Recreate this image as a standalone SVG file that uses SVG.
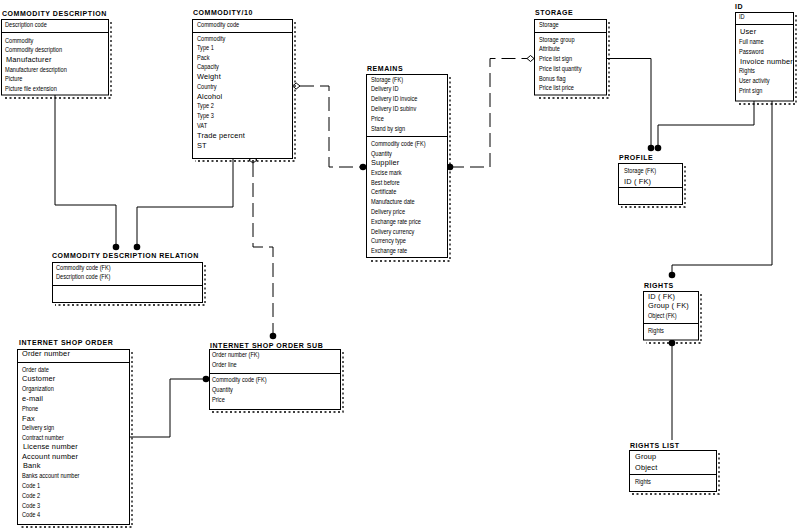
<svg xmlns="http://www.w3.org/2000/svg" width="800" height="529" viewBox="0 0 800 529">
<style>
.bg{fill:#fff}
.box{fill:#fff;stroke:#000;stroke-width:1}
.sep{stroke:#000;stroke-width:1}
.sh{fill:none;stroke:#000;stroke-width:1.3;stroke-dasharray:2 2.5}
.t{font-family:"Liberation Sans",Arial,sans-serif;font-size:7.4px;fill:#000}
.c{transform-box:fill-box;transform-origin:0 0;transform:scaleX(0.76)}
.w{font-size:7px;letter-spacing:0.15px;transform-box:fill-box;transform-origin:0 0;transform:scaleX(1.06)}
.ti{font-family:"Liberation Sans",Arial,sans-serif;font-size:7px;font-weight:bold;letter-spacing:0.55px;fill:#000}
.ln{fill:none;stroke:#000;stroke-width:1}
.dl{fill:none;stroke:#000;stroke-width:1;stroke-dasharray:14 6}
.dot{fill:#000}
.dia{fill:#fff;stroke:#000;stroke-width:1}
</style>
<rect class="bg" x="0" y="0" width="800" height="529"/>

<g id="connectors">
  <path class="ln" d="M55,95 V205 H116 V247"/>
  <circle class="dot" cx="116" cy="247" r="3.3"/>
  <path class="ln" d="M233,158 V207 H137 V247"/>
  <circle class="dot" cx="137" cy="247" r="3.3"/>
  <path class="dl" d="M253,163 V247 H273 V333"/>
  <polygon class="dia" points="249,160 253,157 257,160 253,163"/>
  <circle class="dot" cx="273" cy="336" r="3.3"/>
  <path class="dl" d="M300,86 H329 V167 H363"/>
  <polygon class="dia" points="292.5,86 296.2,83 300,86 296.2,89"/>
  <circle class="dot" cx="363" cy="167" r="3.3"/>
  <path class="dl" d="M450,167 H490 V58.5 H527"/>
  <circle class="dot" cx="450" cy="167" r="3.3"/>
  <polygon class="dia" points="527,58.5 530.5,55.5 534,58.5 530.5,61.5"/>
  <path class="ln" d="M606,58.5 H651 V148"/>
  <path class="ln" d="M754,101 V125 H658 V148"/>
  <circle class="dot" cx="651" cy="148" r="3.3"/>
  <circle class="dot" cx="658" cy="148" r="3.3"/>
  <path class="ln" d="M772,101 V265 H672 V275"/>
  <circle class="dot" cx="672" cy="275" r="3.3"/>
  <path class="ln" d="M672,343 V440"/>
  <circle class="dot" cx="672" cy="343" r="3.3"/>
  <path class="ln" d="M129,437 H170 V379 H206"/>
  <circle class="dot" cx="206" cy="379" r="3.3"/>
</g>

<g id="commodity-description">
  <text class="ti" x="2" y="15.5">COMMODITY DESCRIPTION</text>
  <polyline class="sh" points="111,22 111,98 4,98"/>
  <rect class="box" x="1.5" y="19.5" width="107" height="75.5"/>
  <line class="sep" x1="1.5" y1="32.5" x2="108.5" y2="32.5"/>
  <text class="t c" x="5" y="27.5">Description code</text>
  <text class="t c" x="5" y="43">Commodity</text>
  <text class="t c" x="5" y="52.5">Commodity description</text>
  <text class="t w" x="6" y="62">Manufacturer</text>
  <text class="t c" x="5" y="72">Manufacturer description</text>
  <text class="t c" x="5" y="81.5">Picture</text>
  <text class="t c" x="5" y="91.5">Picture file extension</text>
</g>

<g id="commodity10">
  <text class="ti" x="193" y="15">COMMODITY/10</text>
  <polyline class="sh" points="295,22 295,161 195,161"/>
  <rect class="box" x="192.5" y="19.5" width="100" height="139"/>
  <line class="sep" x1="192.5" y1="32.5" x2="292.5" y2="32.5"/>
  <text class="t c" x="197" y="27.5">Commodity code</text>
  <text class="t c" x="197" y="41.5">Commodity</text>
  <text class="t c" x="197" y="50.5">Type 1</text>
  <text class="t c" x="197" y="60">Pack</text>
  <text class="t c" x="197" y="69.5">Capacity</text>
  <text class="t w" x="197" y="79.5">Weight</text>
  <text class="t c" x="197" y="89.5">Country</text>
  <text class="t w" x="197" y="99.5">Alcohol</text>
  <text class="t c" x="197" y="108.5">Type 2</text>
  <text class="t c" x="197" y="118.5">Type 3</text>
  <text class="t c" x="197" y="128.5">VAT</text>
  <text class="t w" x="197" y="138.5">Trade percent</text>
  <text class="t w" x="197" y="148.5">ST</text>
</g>

<g id="remains">
  <text class="ti" x="367" y="70.5">REMAINS</text>
  <polyline class="sh" points="450,77 450,261 369,261"/>
  <rect class="box" x="366.5" y="74.5" width="81" height="183"/>
  <line class="sep" x1="366.5" y1="136.5" x2="447.5" y2="136.5"/>
  <text class="t c" x="371" y="81.8">Storage (FK)</text>
  <text class="t c" x="371" y="91.5">Delivery ID</text>
  <text class="t c" x="371" y="100.8">Delivery ID invoice</text>
  <text class="t c" x="371" y="110.8">Delivery ID subinv</text>
  <text class="t c" x="371" y="120.8">Price</text>
  <text class="t c" x="371" y="131">Stand by sign</text>
  <text class="t c" x="371" y="146.5">Commodity code (FK)</text>
  <text class="t c" x="371" y="156">Quantity</text>
  <text class="t w" x="371" y="165.5">Supplier</text>
  <text class="t c" x="371" y="175.5">Excise mark</text>
  <text class="t c" x="371" y="185">Best before</text>
  <text class="t c" x="371" y="194.5">Certificate</text>
  <text class="t c" x="371" y="204.5">Manufacture date</text>
  <text class="t c" x="371" y="214">Delivery price</text>
  <text class="t c" x="371" y="224">Exchange rate price</text>
  <text class="t c" x="371" y="234">Delivery currency</text>
  <text class="t c" x="371" y="243.5">Currency type</text>
  <text class="t c" x="371" y="253.5">Exchange rate</text>
</g>

<g id="storage">
  <text class="ti" x="535" y="15">STORAGE</text>
  <polyline class="sh" points="609,22 609,98 537,98"/>
  <rect class="box" x="534.5" y="19.5" width="72" height="75.5"/>
  <line class="sep" x1="534.5" y1="32.5" x2="606.5" y2="32.5"/>
  <text class="t c" x="539" y="27.5">Storage</text>
  <text class="t c" x="539" y="42">Storage group</text>
  <text class="t c" x="539" y="51.5">Attribute</text>
  <text class="t c" x="539" y="61.5">Price list sign</text>
  <text class="t c" x="539" y="71.5">Price list quantity</text>
  <text class="t c" x="539" y="81">Bonus flag</text>
  <text class="t c" x="539" y="90.5">Price list price</text>
</g>

<g id="id">
  <text class="ti" x="735" y="8.5">ID</text>
  <polyline class="sh" points="796,15 796,104 738,104"/>
  <rect class="box" x="735.5" y="12.5" width="58" height="88.5"/>
  <line class="sep" x1="735.5" y1="24.5" x2="793.5" y2="24.5"/>
  <text class="t c" x="739" y="18.8">ID</text>
  <text class="t w" x="740" y="34.5">User</text>
  <text class="t c" x="739" y="44.5">Full name</text>
  <text class="t c" x="739" y="54.5">Password</text>
  <text class="t w" x="740" y="64" letter-spacing="0">Invoice number</text>
  <text class="t c" x="739" y="73.5">Rights</text>
  <text class="t c" x="739" y="83.5">User activity</text>
  <text class="t c" x="739" y="93.5">Print sign</text>
</g>

<g id="profile">
  <text class="ti" x="619" y="159.5">PROFILE</text>
  <polyline class="sh" points="685,166 685,207 621,207"/>
  <rect class="box" x="618.5" y="163.5" width="64" height="41"/>
  <line class="sep" x1="618.5" y1="187.5" x2="682.5" y2="187.5"/>
  <text class="t c" x="624" y="173">Storage (FK)</text>
  <text class="t w" x="624" y="184">ID ( FK)</text>
</g>

<g id="rights">
  <text class="ti" x="644" y="288">RIGHTS</text>
  <polyline class="sh" points="701,294 701,343 646,343"/>
  <rect class="box" x="643.5" y="291.5" width="55" height="48.5"/>
  <line class="sep" x1="643.5" y1="323.5" x2="698.5" y2="323.5"/>
  <text class="t w" x="648" y="299">ID ( FK)</text>
  <text class="t w" x="648" y="308.5">Group ( FK)</text>
  <text class="t c" x="648" y="318">Object (FK)</text>
  <text class="t c" x="648" y="333.5">Rights</text>
</g>

<g id="rights-list">
  <text class="ti" x="630" y="447.5">RIGHTS LIST</text>
  <polyline class="sh" points="719,453 719,494 632,494"/>
  <rect class="box" x="629.5" y="450.5" width="87" height="41"/>
  <line class="sep" x1="629.5" y1="474.5" x2="716.5" y2="474.5"/>
  <text class="t w" x="635" y="459">Group</text>
  <text class="t w" x="635" y="470">Object</text>
  <text class="t c" x="635" y="484">Rights</text>
</g>

<g id="commodity-description-relation">
  <text class="ti" x="52" y="257.5">COMMODITY DESCRIPTION RELATION</text>
  <polyline class="sh" points="205,265 205,305 55,305"/>
  <rect class="box" x="52.5" y="262.5" width="150" height="40"/>
  <line class="sep" x1="52.5" y1="285.5" x2="202.5" y2="285.5"/>
  <text class="t c" x="56" y="269.8">Commodity code (FK)</text>
  <text class="t c" x="56" y="279.2">Description code (FK)</text>
</g>

<g id="internet-shop-order">
  <text class="ti" x="19" y="345">INTERNET SHOP ORDER</text>
  <polyline class="sh" points="132,352 132,527 20,527"/>
  <rect class="box" x="17.5" y="349.5" width="112" height="175"/>
  <line class="sep" x1="17.5" y1="362.5" x2="129.5" y2="362.5"/>
  <text class="t w" x="22" y="356.5">Order number</text>
  <text class="t c" x="22" y="371.8">Order date</text>
  <text class="t w" x="22" y="381.2">Customer</text>
  <text class="t c" x="22" y="390.8">Organization</text>
  <text class="t w" x="22" y="400.8">e-mail</text>
  <text class="t c" x="22" y="410.8">Phone</text>
  <text class="t w" x="22" y="420.8">Fax</text>
  <text class="t c" x="22" y="429.8">Delivery sign</text>
  <text class="t c" x="22" y="439.8">Contract number</text>
  <text class="t w" x="23" y="449.5">License number</text>
  <text class="t w" x="22" y="459.5">Account number</text>
  <text class="t w" x="23" y="468.5">Bank</text>
  <text class="t c" x="22" y="478.2">Banks account number</text>
  <text class="t c" x="22" y="488.2">Code 1</text>
  <text class="t c" x="22" y="497.8">Code 2</text>
  <text class="t c" x="22" y="507.8">Code 3</text>
  <text class="t c" x="22" y="517.5">Code 4</text>
</g>

<g id="internet-shop-order-sub">
  <text class="ti" x="210" y="347.5">INTERNET SHOP ORDER SUB</text>
  <polyline class="sh" points="343,352 343,412 212,412"/>
  <rect class="box" x="209.5" y="349.5" width="131" height="60"/>
  <line class="sep" x1="209.5" y1="373.5" x2="340.5" y2="373.5"/>
  <text class="t c" x="212" y="357.5">Order number (FK)</text>
  <text class="t c" x="212" y="366.8">Order line</text>
  <text class="t c" x="212" y="382.5">Commodity code (FK)</text>
  <text class="t c" x="212" y="391.8">Quantity</text>
  <text class="t c" x="212" y="401.8">Price</text>
</g>
</svg>
